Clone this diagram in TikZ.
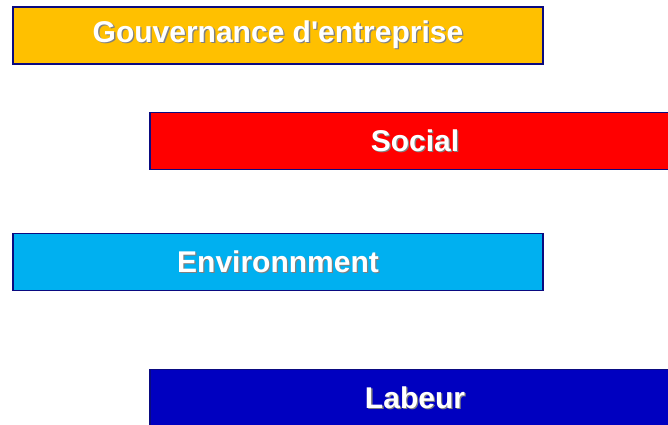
\documentclass[tikz,border=0pt]{standalone}
\usepackage{fontspec}
\setmainfont{Liberation Sans}
\usepackage{tikz}
\usetikzlibrary{positioning}

\definecolor{govyellow}{HTML}{FFC000}
\definecolor{socred}{HTML}{FF0000}
\definecolor{envblue}{HTML}{00B0F0}
\definecolor{labblue}{HTML}{0000C0}
\definecolor{edgenavy}{HTML}{0A0A80}

% white letters with a soft grey shadow
\newcommand{\shtext}[1]{\raisebox{-2pt}{\makebox[0pt][l]{\hspace{1.3pt}\raisebox{-1.3pt}{\textcolor{black!50}{#1}}}#1}}

\begin{document}
\begin{tikzpicture}[x=1pt,y=-1pt,
                    bar node/.style={rectangle,draw=edgenavy,line width=1.6pt,
                            text=white,font=\fontsize{30}{30}\selectfont\bfseries,
                            minimum width=530pt,minimum height=57pt,inner sep=0pt}]

                \useasboundingbox (0,0) rectangle (668,424);
                \clip (0,0) rectangle (668,424);

                \node[bar node,fill=govyellow] (gov) at (278,35.5) {\shtext{Gouvernance d\textquotesingle entreprise}};
                \node[bar node,fill=socred] (social) at (415,141) {\shtext{Social}};
                \node[bar node,fill=envblue] (env) at (278,262) {\shtext{Environnment}};
                \node[bar node,fill=labblue] (labeur) at (415,398) {\shtext{Labeur}};
            \end{tikzpicture}
\end{document}
